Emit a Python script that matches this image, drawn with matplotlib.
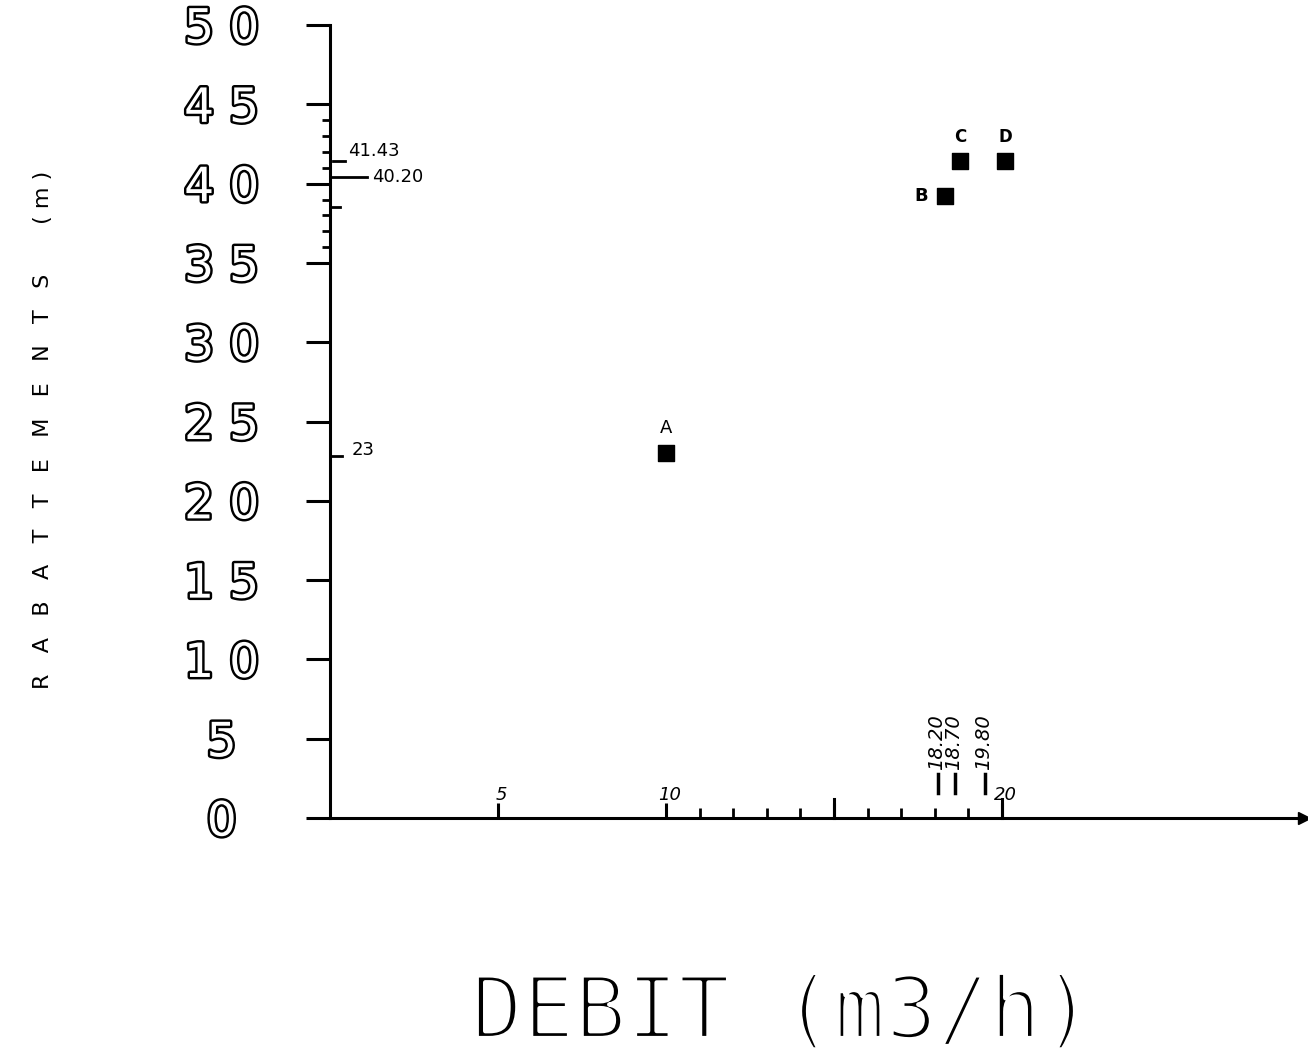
import matplotlib
matplotlib.use("Agg")
import matplotlib.pyplot as plt
import matplotlib.patheffects as pe

# points
names = ["A", "B", "C", "D"]
debit = [10.0, 18.3, 18.75, 20.1]
rabat = [23.0, 39.2, 41.4, 41.4]

# values marked on the axes
y_marks = [41.43, 40.20, 23.0]
y_mark_labels = ["41.43", "40.20", "23"]
x_marks = [18.1, 18.6, 19.5]
x_mark_labels = ["18.20", "18.70", "19.80"]

y_ticks = [0, 5, 10, 15, 20, 25, 30, 35, 40, 45, 50]
y_tick_labels = ["0", "5", "10", "15", "20", "25", "30", "35", "40", "45", "50"]

fig = plt.figure(figsize=(13.08, 10.58), dpi=100)
ax = fig.add_axes([0.2523, 0.2268, 0.745, 0.7495])
ax.set_xlim(0, 29)
ax.set_ylim(0, 50)

for s in ["top", "right"]:
    ax.spines[s].set_visible(False)
ax.spines["left"].set_linewidth(2.2)
ax.spines["bottom"].set_linewidth(2.2)
ax.plot(1, 0, ">k", transform=ax.get_yaxis_transform(), clip_on=False, ms=8)

# y axis: big outlined digits, centred in a column, ticks to the left
ax.set_yticks(y_ticks)
ax.set_yticklabels([" ".join(t) for t in y_tick_labels])
ax.tick_params(axis="y", direction="out", length=17, width=2.2, pad=61)
for lab in ax.get_yticklabels():
    lab.set_fontsize(34)
    lab.set_ha("center")
    lab.set_color("white")
    lab.set_path_effects([pe.withStroke(linewidth=3.5, foreground="black")])
ax.set_yticks(list(range(36, 45)), minor=True)
ax.tick_params(axis="y", which="minor", direction="out", length=6, width=2)

# x axis: ticks pointing up, labels written above the axis
ax.set_xticks([5, 10, 15, 20])
ax.set_xticklabels([])
ax.tick_params(axis="x", direction="in", length=11, width=2.2)
ax.set_xticks([11, 12, 13, 14, 16, 17, 18, 19], minor=True)
ax.tick_params(axis="x", which="minor", direction="in", length=7, width=2)
for v in [15, 20]:
    ax.plot([v, v], [0, 1.2], color="k", lw=2.2, clip_on=False)
for v in [5, 10, 20]:
    ax.text(v + 0.1, 0.9, str(v), fontsize=13, style="italic", ha="center", va="bottom")

# marked values on the y axis
ax.plot([0.1, 0.45], [41.43, 41.43], color="k", lw=2)
ax.plot([0.05, 1.1], [40.4, 40.4], color="k", lw=2)
ax.plot([0.05, 0.35], [22.8, 22.8], color="k", lw=2)
ax.plot([0.05, 0.3], [38.5, 38.5], color="k", lw=2)
ax.text(0.55, 41.5, y_mark_labels[0], fontsize=13, va="bottom", ha="left")
ax.text(1.25, 40.4, y_mark_labels[1], fontsize=13, va="center", ha="left")
ax.text(0.65, 23.2, y_mark_labels[2], fontsize=13, va="center", ha="left")

# marked values on the x axis
for xv, lab in zip(x_marks, x_mark_labels):
    ax.plot([xv, xv], [1.6, 2.8], color="k", lw=2.5)
    ax.text(xv - 0.05, 3.0, lab, rotation=90, fontsize=14, style="italic",
            ha="center", va="bottom")

# the points
ax.scatter(debit, rabat, marker="s", s=120, color="k", zorder=3)
ax.text(debit[0], rabat[0] + 1.0, names[0], fontsize=13, ha="center", va="bottom")
ax.text(debit[1] - 0.5, rabat[1], names[1], fontsize=13, fontweight="bold", ha="right", va="center")
ax.text(debit[2], rabat[2] + 1.0, names[2], fontsize=12, fontweight="bold", ha="center", va="bottom")
ax.text(debit[3], rabat[3] + 1.0, names[3], fontsize=12, fontweight="bold", ha="center", va="bottom")

fig.text(0.033, 0.594, "R   A   B   A   T   T   E   M   E   N   T   S       ( m )", rotation=90,
         fontsize=16, ha="center", va="center")
# thin plotter-like lettering: normal glyphs eroded by a white stroke
fig.text(0.598, 0.041, "DEBIT (m3/h)", fontsize=62, family="DejaVu Sans Mono",
         ha="center", va="center",
         path_effects=[pe.Normal(), pe.Stroke(linewidth=3.2, foreground="white")])

plt.savefig("out.png", dpi=100)
